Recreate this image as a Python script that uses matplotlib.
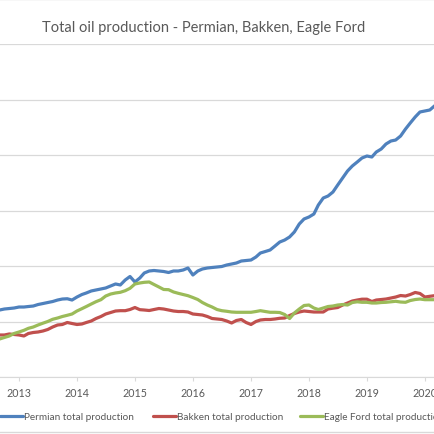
import matplotlib
matplotlib.use("Agg")
import matplotlib.pyplot as plt
import matplotlib.dates as mdates
from matplotlib.lines import Line2D
import pandas as pd

# monthly production, million barrels per day, Aug 2012 - Apr 2020
permian = [
    1.189, 1.207, 1.225, 1.234, 1.243,
    1.261, 1.261, 1.270, 1.279, 1.306, 1.324, 1.342, 1.360, 1.387, 1.405, 1.410, 1.387,
    1.441, 1.486, 1.514, 1.550, 1.568, 1.586, 1.604, 1.640, 1.676, 1.658, 1.748, 1.811,
    1.712, 1.784, 1.874, 1.910, 1.919, 1.910, 1.901, 1.883, 1.910, 1.910, 1.928, 1.964,
    1.838, 1.910, 1.946, 1.964, 1.973, 1.982, 1.991, 2.018, 2.036, 2.054, 2.090, 2.099,
    2.108, 2.162, 2.234, 2.261, 2.288, 2.360, 2.432, 2.468, 2.523, 2.613, 2.757, 2.847,
    2.883, 2.937, 3.099, 3.225, 3.261, 3.333, 3.459, 3.586, 3.712, 3.802, 3.874, 3.946,
    3.982, 3.964, 4.054, 4.108, 4.198, 4.252, 4.270, 4.342, 4.468, 4.577, 4.685, 4.775,
    4.793, 4.811, 4.883, 4.937,
]
bakken = [
    0.748, 0.757, 0.757, 0.775, 0.766,
    0.757, 0.739, 0.784, 0.802, 0.811, 0.829, 0.856, 0.901, 0.937, 0.946, 0.982, 0.964,
    0.946, 0.955, 0.982, 1.009, 1.054, 1.090, 1.135, 1.162, 1.189, 1.195, 1.195, 1.216,
    1.252, 1.213, 1.207, 1.198, 1.216, 1.234, 1.225, 1.207, 1.189, 1.180, 1.180, 1.171,
    1.135, 1.126, 1.117, 1.090, 1.054, 1.045, 1.036, 1.009, 0.973, 1.018, 1.036, 0.982,
    0.946, 1.000, 1.027, 1.036, 1.036, 1.045, 1.058, 1.063, 1.108, 1.144, 1.171, 1.189,
    1.180, 1.171, 1.171, 1.171, 1.225, 1.240, 1.252, 1.297, 1.333, 1.369, 1.387, 1.402,
    1.402, 1.360, 1.387, 1.396, 1.405, 1.423, 1.441, 1.468, 1.459, 1.486, 1.523, 1.505,
    1.441, 1.454, 1.465, 1.468,
]
eagle_ford = [
    0.658, 0.685, 0.712, 0.739, 0.784,
    0.811, 0.841, 0.877, 0.901, 0.937, 0.970, 1.000, 1.040, 1.063, 1.090, 1.112, 1.135,
    1.189, 1.231, 1.270, 1.315, 1.357, 1.393, 1.459, 1.495, 1.514, 1.526, 1.555, 1.598,
    1.676, 1.694, 1.706, 1.712, 1.667, 1.622, 1.577, 1.573, 1.532, 1.508, 1.486, 1.465,
    1.432, 1.396, 1.342, 1.297, 1.261, 1.216, 1.195, 1.184, 1.171, 1.166, 1.166, 1.166,
    1.166, 1.180, 1.195, 1.180, 1.166, 1.166, 1.162, 1.126, 1.054, 1.153, 1.225, 1.288,
    1.297, 1.243, 1.216, 1.243, 1.270, 1.279, 1.297, 1.306, 1.297, 1.342, 1.355, 1.346,
    1.346, 1.333, 1.333, 1.342, 1.346, 1.355, 1.364, 1.351, 1.346, 1.378, 1.396, 1.405,
    1.393, 1.393, 1.393, 1.393,
]
months = pd.date_range("2012-08-01", periods=len(permian), freq="MS")
series_names = ["Permian total production", "Bakken total production",
                "Eagle Ford total production"]
colors = ["#4F81BD", "#C0504D", "#9BBB59"]
years = list(range(2013, 2021))

plt.rcParams['font.family'] = ['Lato', 'DejaVu Sans']
fig = plt.figure(figsize=(4.35, 4.35), dpi=100)
ax = fig.add_axes([0, 57 / 435, 1, 333 / 435])

lines = []
for vals, name, c in zip([permian, bakken, eagle_ford], series_names, colors):
    ln, = ax.plot(months, vals, color=c, lw=2.3, label=name, solid_capstyle='round')
    lines.append(ln)

# the picture is a crop: the axis runs past both edges
start = mdates.date2num(pd.Timestamp("2013-01-01"))
per_px = 365.25 / 58
ax.set_xlim(start - 19 * per_px, start + 416 * per_px)
ax.set_ylim(0, 6)
ax.set_yticks(range(0, 7))
ax.set_yticklabels([])
ax.tick_params(axis='y', length=0)
ax.set_xticks([pd.Timestamp(f"{y}-01-01") for y in years])
ax.set_xticklabels([str(y) for y in years])
ax.tick_params(axis='x', length=3, color="#D9D9D9", labelsize=7.7,
               labelcolor="#595959", pad=4.5)
ax.grid(axis='y', color="#D9D9D9", lw=0.9)
ax.set_axisbelow(True)
for s in ['left', 'right', 'top']:
    ax.spines[s].set_visible(False)
ax.spines['bottom'].set_color("#D9D9D9")
ax.spines['bottom'].set_zorder(1)

fig.text(204 / 435, 1 - 28 / 435, "Total oil production - Permian, Bakken, Eagle Ford",
         ha='center', va='center', fontsize=10.5, color="#595959")

# legend entries, one per series, where Excel put them
leg_fs = 7.2
handle_px = 23
for ln, x0 in zip(lines, [0, 153, 300]):
    fig.legend(handles=[ln], loc='center left',
               bbox_to_anchor=(x0 / 435, 1 - 418 / 435), frameon=False,
               fontsize=leg_fs, labelcolor="#595959",
               handlelength=handle_px / (leg_fs * 100 / 72),
               handletextpad=0.15, borderpad=0, borderaxespad=0)

# chart area border
fig.add_artist(Line2D([0, 1], [0.999, 0.999], color="#D9D9D9", lw=1))
fig.add_artist(Line2D([0, 1], [2 / 435, 2 / 435], color="#D9D9D9", lw=1))

fig.savefig("out.png", dpi=100)
